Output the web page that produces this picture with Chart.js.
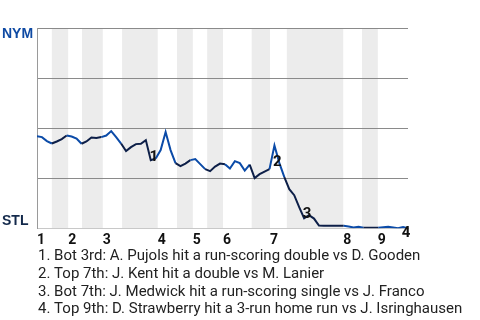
<!DOCTYPE html>
<html>
<head>
<meta charset="utf-8">
<style>
  html, body { margin: 0; padding: 0; background: #fff; }
  #wp { display: block; }
</style>
<script src="https://cdn.jsdelivr.net/npm/chart.js@4.4.1/dist/chart.umd.min.js"></script>
</head>
<body>
<canvas id="wp" width="480" height="320"></canvas>
<script>
// NYM win probability (%) after each play, STL at 0, NYM at 100
var nymWinPct = [
  46, 45.5, 43.5, 42.3, 43.3, 44.5, 46.3, 45.8, 44.8, 42.2,
  43.3, 45.3, 45.1, 45.5, 46.3, 48.5, 45.5, 42.3, 38.5, 40.5,
  42, 42.2, 44, 34, 34.8, 39, 48, 39, 32.5, 31,
  32.3, 34, 34.5, 32, 29.5, 28.5, 30.8, 32.3, 32, 29.8,
  33.5, 32.5, 28.8, 31.8, 25, 27, 28.3, 29.5, 41.3, 32.5,
  25.5, 19.5, 16.5, 10.5, 5, 6.5, 4.8, 1.3, 1.2, 1.2,
  1.2, 1.2, 1.2, 0.8, 0.4, 0.7, 0.2, 0.2, 0.2, 0.2,
  0.5, 0.7, 0.4, 0, 0.6, 0
];

// play index where each half inning starts (top 1st, bot 1st, top 2nd ...)
var halfInningStarts = [0, 3, 6.3, 9.1, 13.3, 17.2, 24.4, 28.3, 31.5, 34.4, 37.6, 43.4, 47.1, 50.5, 61.9, 65.7, 68.9];
var innings = ["1", "2", "3", "4", "5", "6", "7", "8", "9"];

var teamTop = "NYM";
var teamBottom = "STL";

// key plays: play index and description
var keyPlays = [24, 49, 55, 75];
var keyNotes = [
  "Bot 3rd: A. Pujols hit a run-scoring double vs D. Gooden",
  "Top 7th: J. Kent hit a double vs M. Lanier",
  "Bot 7th: J. Medwick hit a run-scoring single vs J. Franco",
  "Top 9th: D. Strawberry hit a 3-run home run vs J. Isringhausen"
];

var blue = "#0b4ba8";
var navy = "#0d1f48";

function halfOf(x) {
  var h = 0;
  for (var i = 0; i < halfInningStarts.length; i++) {
    if (halfInningStarts[i] <= x) h = i;
  }
  return h;
}

var lastPlay = nymWinPct.length - 1;

// shaded bottom halves
var bandsPlugin = {
  id: "bands",
  beforeDraw: function (chart) {
    var c = chart.ctx, a = chart.chartArea, xs = chart.scales.x;
    c.save();
    c.fillStyle = "#ececec";
    for (var i = 1; i < halfInningStarts.length; i += 2) {
      var x0 = xs.getPixelForValue(halfInningStarts[i]);
      var end = i + 1 < halfInningStarts.length ? halfInningStarts[i + 1] : lastPlay;
      var x1 = xs.getPixelForValue(end);
      c.fillRect(x0, a.top, x1 - x0, a.bottom - a.top);
    }
    c.restore();
  }
};

var labelsPlugin = {
  id: "labels",
  afterDatasetsDraw: function (chart) {
    var c = chart.ctx, a = chart.chartArea;
    var xs = chart.scales.x, ys = chart.scales.y;
    c.save();
    // team labels
    c.font = "bold 14px 'Liberation Sans', Arial, sans-serif";
    c.textAlign = "left";
    c.textBaseline = "middle";
    c.fillStyle = "#0f4aa3";
    c.fillText(teamTop, 2, a.top + 6);
    c.fillStyle = "#13294b";
    c.fillText(teamBottom, 2, a.bottom - 7);

    // key play markers
    c.font = "bold 15px Roboto, sans-serif";
    c.textAlign = "center";
    c.fillStyle = "#111";
    keyPlays.forEach(function (p, k) {
      var px = xs.getPixelForValue(p) - 2;
      var py = ys.getPixelForValue(nymWinPct[p]) - 1;
      if (py > a.bottom - 6) py = a.bottom + 5;
      c.fillText(String(k + 1), px, py);
    });

    // notes
    c.font = "15px Roboto, sans-serif";
    c.textAlign = "left";
    c.fillStyle = "#222";
    keyNotes.forEach(function (t, k) {
      c.fillText((k + 1) + ". " + t, 38, a.bottom + 28 + k * 17.8);
    });
    c.restore();
  }
};

new Chart(document.getElementById("wp"), {
  type: "line",
  data: {
    datasets: [{
      data: nymWinPct.map(function (v, i) { return { x: i, y: v }; }),
      borderWidth: 2,
      borderColor: blue,
      pointRadius: 0,
      tension: 0,
      segment: {
        borderColor: function (ctx) {
          return halfOf(ctx.p0DataIndex + 0.5) % 2 === 0 ? blue : navy;
        }
      }
    }]
  },
  options: {
    responsive: false,
    animation: false,
    devicePixelRatio: 1,
    layout: { padding: { left: 37, right: 72, top: 28, bottom: 67 } },
    plugins: { legend: { display: false }, tooltip: { enabled: false } },
    scales: {
      x: {
        type: "linear",
        min: 0,
        max: lastPlay,
        grid: { display: false, drawTicks: false },
        border: { display: true, color: "#c8c8c8" },
        afterBuildTicks: function (axis) {
          axis.ticks = halfInningStarts.filter(function (v, i) { return i % 2 === 0; })
            .map(function (v) { return { value: v }; });
        },
        ticks: {
          autoSkip: false,
          maxRotation: 0,
          align: "start",
          padding: 4,
          color: "#111",
          font: { family: "Roboto, sans-serif", size: 14, weight: "bold" },
          callback: function (v, i) { return innings[i]; }
        }
      },
      y: {
        min: 0,
        max: 100,
        ticks: { display: false, stepSize: 25 },
        grid: {
          drawTicks: false,
          lineWidth: 1,
          color: function (ctx) { return ctx.tick && ctx.tick.value === 0 ? "#c8c8c8" : "#8a8a8a"; }
        },
        border: { display: true, color: "#9a9a9a" }
      }
    }
  },
  plugins: [bandsPlugin, labelsPlugin]
});
</script>
</body>
</html>
